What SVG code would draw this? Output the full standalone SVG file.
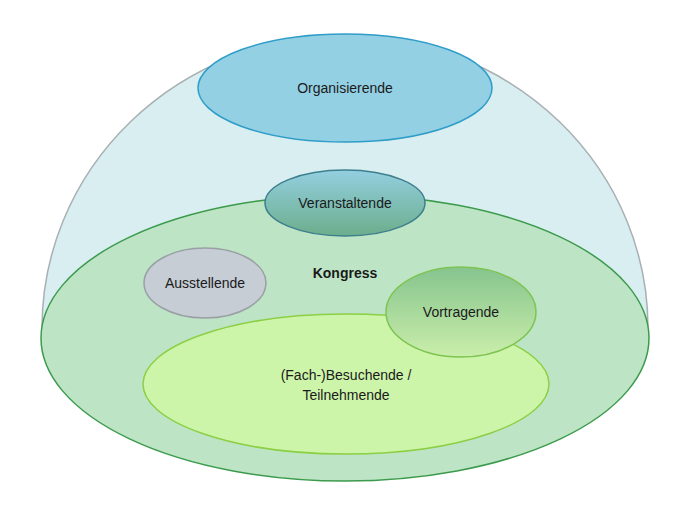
<svg xmlns="http://www.w3.org/2000/svg" width="697" height="519" viewBox="0 0 697 519">
<defs>
<linearGradient id="gV" x1="0" y1="0" x2="0" y2="1"><stop offset="0" stop-color="#93cfe0"/><stop offset="1" stop-color="#6cae8c"/></linearGradient>
<linearGradient id="gT" x1="0" y1="0" x2="0" y2="1"><stop offset="0" stop-color="#86c48e"/><stop offset="1" stop-color="#caeeaa"/></linearGradient>
<style>
text{font-family:"Liberation Sans",Arial,sans-serif;font-size:14px;fill:#1a1a1a;text-anchor:middle}
</style>
</defs>
<rect width="697" height="519" fill="#ffffff"/>
<g id="dome"><path d="M42,328 A303,292 0 0 1 648,328 Z" fill="#d8eef0" stroke="#a9b0b4" stroke-width="1.5"/></g>
<g id="kongress"><ellipse cx="345" cy="338" rx="304" ry="143" fill="#bde5c5" stroke="#3c9a4c" stroke-width="1.5"/><text x="345" y="278" font-weight="bold">Kongress</text></g>
<g id="organisierende"><ellipse cx="345" cy="88" rx="147" ry="54" fill="#94d0e4" stroke="#2f9dc8" stroke-width="1.5"/><text x="345" y="93">Organisierende</text></g>
<g id="veranstaltende"><ellipse cx="345" cy="203" rx="80" ry="33" fill="url(#gV)" stroke="#3d7f8c" stroke-width="1.5"/><text x="345" y="208">Veranstaltende</text></g>
<g id="ausstellende"><ellipse cx="205" cy="283" rx="61" ry="35" fill="#c6cdd5" stroke="#9aa0a4" stroke-width="1.5"/><text x="205" y="288">Ausstellende</text></g>
<g id="besuchende"><ellipse cx="346" cy="384" rx="203" ry="70" fill="#cdf5aa" stroke="#8ccf44" stroke-width="1.5"/><text x="346" y="380">(Fach-)Besuchende /</text><text x="346" y="400">Teilnehmende</text></g>
<g id="vortragende"><ellipse cx="461" cy="312" rx="75" ry="45" fill="url(#gT)" stroke="#7dc452" stroke-width="1.5"/><text x="461" y="317">Vortragende</text></g>
<g id="connectors"/>
</svg>
